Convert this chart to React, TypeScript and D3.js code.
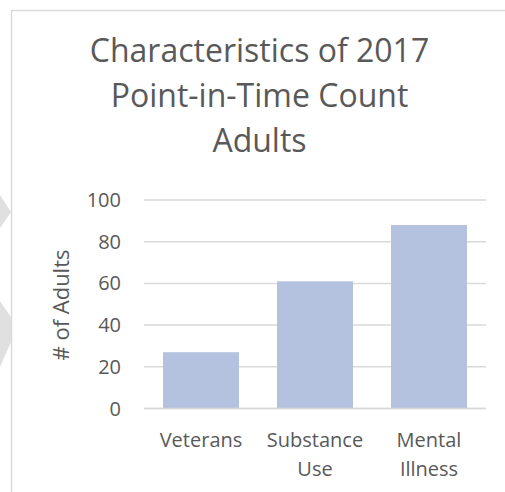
import React, { useEffect, useRef } from "react";
import * as d3 from "d3";

const categories: string[][] = [["Veterans"], ["Substance", "Use"], ["Mental", "Illness"]];
const values: number[] = [27, 61, 88];
const yTicks: number[] = [0, 20, 40, 60, 80, 100];
const titleLines: string[] = ["Characteristics of 2017", "Point-in-Time Count", "Adults"];
const yTitle = "# of Adults";

const W = 505;
const H = 492;
const FONT = "'Open Sans', 'Noto Sans', sans-serif";
const TEXT = "#595959";
const GRID = "#d9d9d9";
const BAR = "#b4c1df";

export default function App() {
  const ref = useRef<SVGSVGElement>(null);

  useEffect(() => {
    const svg = d3.select(ref.current);
    svg.selectAll("*").remove();

    // decorative shapes at the left edge
    const deco = [
      [[0, 195], [11, 212], [0, 228]],
      [[0, 301], [11, 317], [11, 342], [0, 367]],
    ];
    svg
      .selectAll("polygon.deco")
      .data(deco)
      .join("polygon")
      .attr("class", "deco")
      .attr("points", (d) => d.map((p) => p.join(",")).join(" "))
      .attr("fill", "#e0e0e0");

    // chart frame
    svg
      .append("path")
      .attr("d", `M11.5,${H} V10.5 H${W}`)
      .attr("fill", "none")
      .attr("stroke", GRID)
      .attr("stroke-width", 1.5);

    const x = d3
      .scaleBand<number>()
      .domain(d3.range(categories.length))
      .range([144, 486])
      .paddingInner(1 / 3)
      .paddingOuter(1 / 6);
    const y = d3.scaleLinear().domain([0, 100]).range([408.5, 200]);

    // title
    const title = svg
      .append("text")
      .attr("text-anchor", "middle")
      .attr("font-family", FONT)
      .attr("font-size", 32)
      .attr("fill", TEXT);
    titleLines.forEach((t, i) => {
      title.append("tspan").attr("x", 259.5).attr("y", 62 + i * 45).text(t);
    });

    // gridlines
    svg
      .append("g")
      .selectAll("line")
      .data(yTicks)
      .join("line")
      .attr("x1", 144)
      .attr("x2", 486)
      .attr("y1", (d) => y(d))
      .attr("y2", (d) => y(d))
      .attr("stroke", GRID)
      .attr("stroke-width", 1.5);

    // y tick labels
    svg
      .append("g")
      .selectAll("text")
      .data(yTicks)
      .join("text")
      .attr("x", 121)
      .attr("y", (d) => y(d))
      .attr("dy", "0.35em")
      .attr("text-anchor", "end")
      .attr("font-family", FONT)
      .attr("font-size", 20)
      .attr("fill", TEXT)
      .text((d) => d);

    // y axis title
    svg
      .append("text")
      .attr("transform", `translate(69,305) rotate(-90)`)
      .attr("text-anchor", "middle")
      .attr("font-family", FONT)
      .attr("font-size", 22)
      .attr("fill", TEXT)
      .text(yTitle);

    // bars
    svg
      .append("g")
      .selectAll("rect")
      .data(values)
      .join("rect")
      .attr("x", (_, i) => x(i)!)
      .attr("width", x.bandwidth())
      .attr("y", (d) => y(d))
      .attr("height", (d) => y(0) - y(d))
      .attr("fill", BAR);

    // baseline over bars
    svg
      .append("line")
      .attr("x1", 144)
      .attr("x2", 486)
      .attr("y1", y(0))
      .attr("y2", y(0))
      .attr("stroke", GRID)
      .attr("stroke-width", 1.5);

    // category labels
    const labels = svg
      .append("g")
      .selectAll("text")
      .data(categories)
      .join("text")
      .attr("text-anchor", "middle")
      .attr("font-family", FONT)
      .attr("font-size", 20)
      .attr("fill", TEXT);
    labels.each(function (lines, i) {
      const cx = x(i)! + x.bandwidth() / 2;
      lines.forEach((l, j) => {
        d3.select(this)
          .append("tspan")
          .attr("x", cx)
          .attr("y", 447 + j * 29)
          .text(l);
      });
    });
  }, []);

  return (
    <svg
      ref={ref}
      width={W}
      height={H}
      style={{ position: "absolute", left: 0, top: 0, background: "#fff" }}
    />
  );
}
